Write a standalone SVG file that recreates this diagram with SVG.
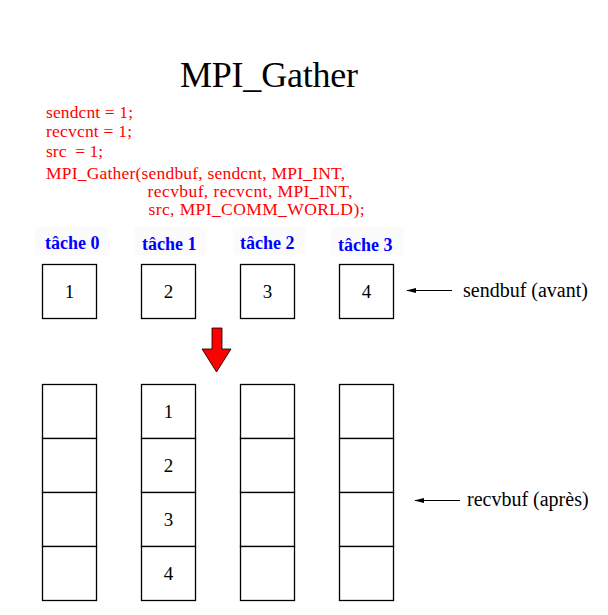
<svg xmlns="http://www.w3.org/2000/svg" width="608" height="615" viewBox="0 0 608 615">
  <style>
    .title { font-family: "Liberation Serif", "Times New Roman", serif; font-size: 36px; fill: #000; }
    .code { font-family: "Liberation Serif", "Times New Roman", serif; font-size: 17.5px; fill: #ff0000; }
    .task { font-family: "Liberation Serif", "Times New Roman", serif; font-size: 18px; font-weight: bold; fill: #0000ff; }
    .num { font-family: "Liberation Serif", "Times New Roman", serif; font-size: 19px; fill: #000; text-anchor: middle; }
    .lbl { font-family: "Liberation Serif", "Times New Roman", serif; font-size: 20px; fill: #000; }
    .cell { fill: #fff; stroke: #000; stroke-width: 1.3; }
    .lead { stroke: #000; stroke-width: 1.2; fill: none; marker-start: url(#dot); }
    .bg { fill: #fbfbfb; }
  </style>
  <defs>
    <marker id="dot" viewBox="0 0 10 6" refX="1" refY="3" markerWidth="10" markerHeight="6" markerUnits="userSpaceOnUse" orient="auto">
      <path d="M0,3 L10,0.5 L10,5.5 Z" fill="#000"/>
    </marker>
  </defs>
  <rect width="608" height="615" fill="#fff"/>

  <!-- heading -->
  <text class="title" x="180" y="87" textLength="178">MPI_Gather</text>

  <!-- call snippet -->
  <g id="code">
    <text class="code" x="46" y="117.5" textLength="87">sendcnt = 1;</text>
    <text class="code" x="46" y="136.5" textLength="86">recvcnt = 1;</text>
    <text class="code" x="46" y="156.5" xml:space="preserve">src  = 1;</text>
    <text class="code" x="46" y="179" textLength="299">MPI_Gather(sendbuf, sendcnt, MPI_INT,</text>
    <text class="code" x="147.5" y="197" textLength="205">recvbuf, recvcnt, MPI_INT,</text>
    <text class="code" x="148.5" y="215" textLength="216">src, MPI_COMM_WORLD);</text>
  </g>

  <!-- task headers -->
  <g id="tasks">
    <rect class="bg" x="35" y="227" width="73" height="28"/>
    <rect class="bg" x="134" y="227" width="73" height="28"/>
    <rect class="bg" x="233" y="227" width="73" height="28"/>
    <rect class="bg" x="331" y="227" width="73" height="28"/>
    <text class="task" x="45" y="249">tâche 0</text>
    <text class="task" x="142" y="250">tâche 1</text>
    <text class="task" x="240" y="249">tâche 2</text>
    <text class="task" x="338" y="251">tâche 3</text>
  </g>

  <!-- send buffers (before) -->
  <g id="sendbuf0"><rect class="cell" x="42.5" y="264.5" width="54" height="54"/><text class="num" x="69.5" y="298">1</text></g>
  <g id="sendbuf1"><rect class="cell" x="141.5" y="264.5" width="54" height="54"/><text class="num" x="168.5" y="298">2</text></g>
  <g id="sendbuf2"><rect class="cell" x="240.5" y="264.5" width="54" height="54"/><text class="num" x="267.5" y="298">3</text></g>
  <g id="sendbuf3"><rect class="cell" x="339.5" y="264.5" width="54" height="54"/><text class="num" x="366.5" y="298">4</text></g>

  <!-- red down arrow -->
  <g id="gather-arrow">
    <polygon points="212,328 222,328 222,349 231,349 216.5,372 202,349 212,349" fill="#ff0000" stroke="#000" stroke-width="0.8"/>
  </g>

  <!-- receive buffers (after) -->
  <g id="recvbuf0">
    <rect class="cell" x="42.5" y="384.5" width="54" height="54"/>
    <rect class="cell" x="42.5" y="438.5" width="54" height="54"/>
    <rect class="cell" x="42.5" y="492.5" width="54" height="54"/>
    <rect class="cell" x="42.5" y="546.5" width="54" height="54"/>
  </g>
  <g id="recvbuf1">
    <rect class="cell" x="141.5" y="384.5" width="54" height="54"/>
    <rect class="cell" x="141.5" y="438.5" width="54" height="54"/>
    <rect class="cell" x="141.5" y="492.5" width="54" height="54"/>
    <rect class="cell" x="141.5" y="546.5" width="54" height="54"/>
    <text class="num" x="168.5" y="418">1</text>
    <text class="num" x="168.5" y="472">2</text>
    <text class="num" x="168.5" y="526">3</text>
    <text class="num" x="168.5" y="580">4</text>
  </g>
  <g id="recvbuf2">
    <rect class="cell" x="240.5" y="384.5" width="54" height="54"/>
    <rect class="cell" x="240.5" y="438.5" width="54" height="54"/>
    <rect class="cell" x="240.5" y="492.5" width="54" height="54"/>
    <rect class="cell" x="240.5" y="546.5" width="54" height="54"/>
  </g>
  <g id="recvbuf3">
    <rect class="cell" x="339.5" y="384.5" width="54" height="54"/>
    <rect class="cell" x="339.5" y="438.5" width="54" height="54"/>
    <rect class="cell" x="339.5" y="492.5" width="54" height="54"/>
    <rect class="cell" x="339.5" y="546.5" width="54" height="54"/>
  </g>

  <!-- legend leaders -->
  <g id="connectors">
    <line class="lead" x1="407" y1="290.5" x2="452" y2="290.5"/>
    <line class="lead" x1="415" y1="500.5" x2="460" y2="500.5"/>
  </g>
  <g id="label-sendbuf"><text class="lbl" x="463" y="297">sendbuf (avant)</text></g>
  <g id="label-recvbuf"><text class="lbl" x="467" y="506">recvbuf (après)</text></g>
</svg>
